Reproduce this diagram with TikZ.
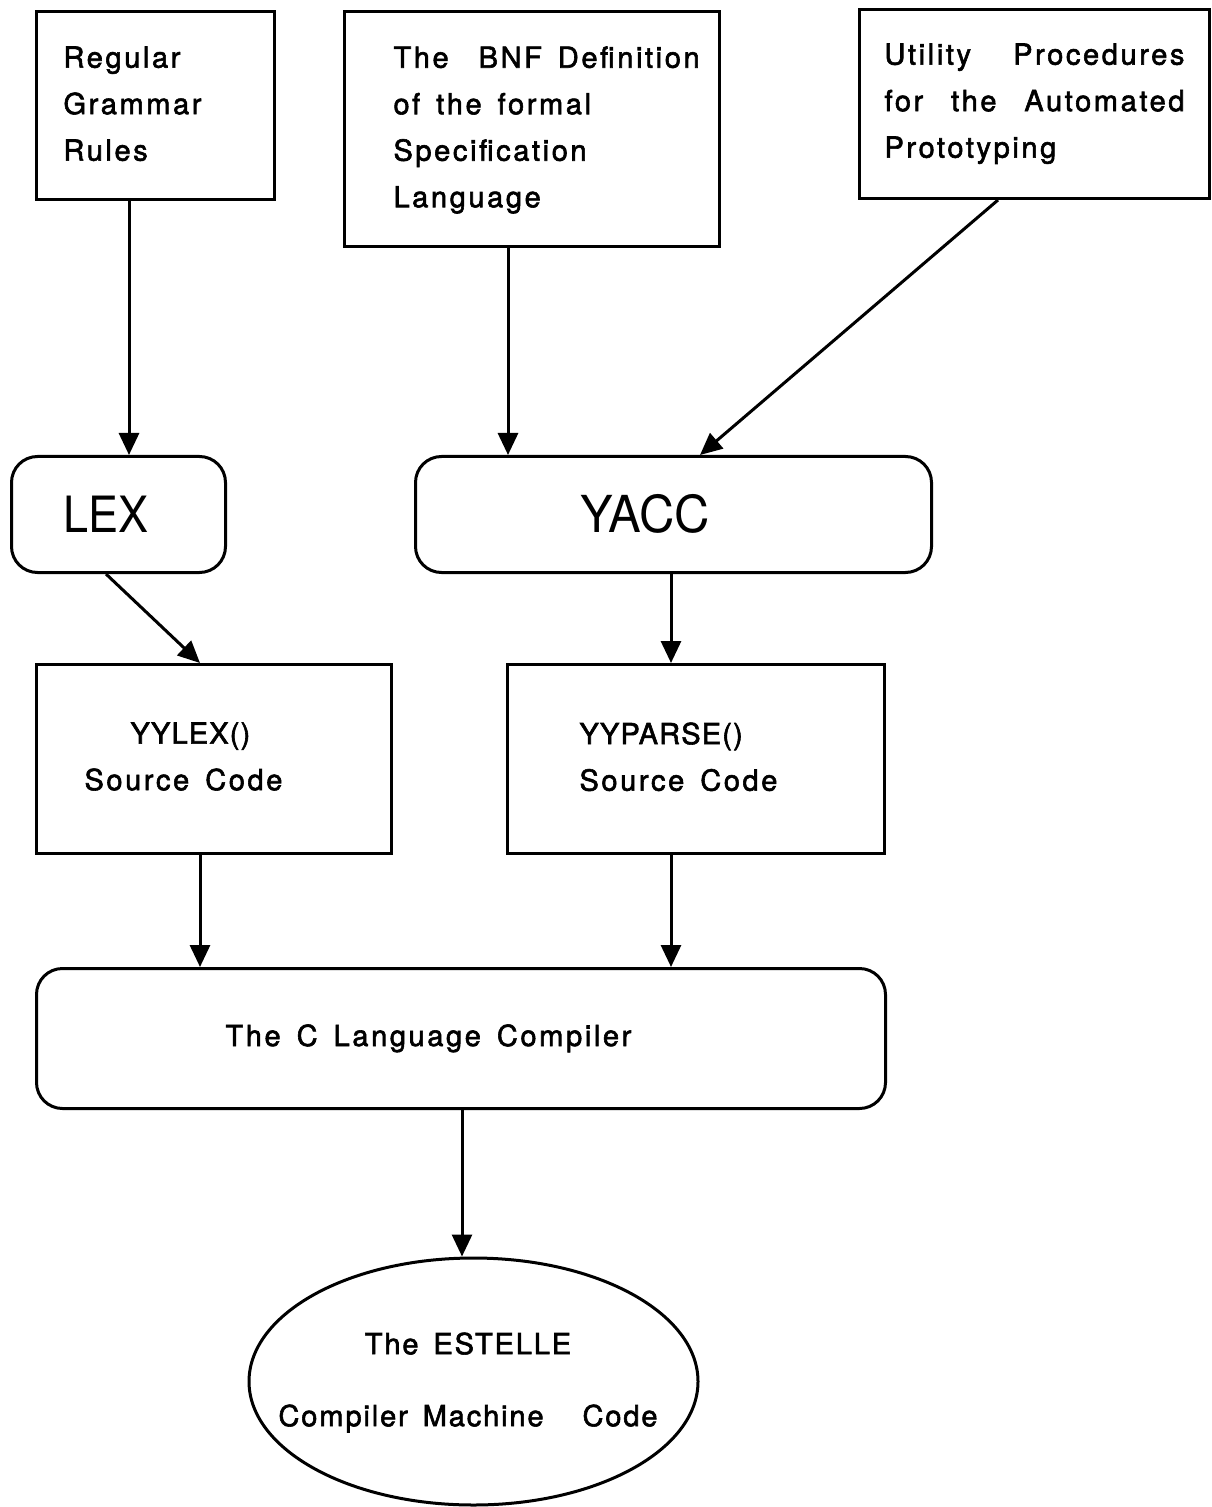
\documentclass[tikz,border=0pt]{standalone}
\usepackage{fontspec}
\setmainfont{TeX Gyre Heros}
\newfontfamily\spacedsans{TeX Gyre Heros}[LetterSpace=9, WordSpace=1.5, FakeBold=2]
\newfontfamily\capsans{TeX Gyre Heros}[LetterSpace=4, WordSpace=1.5, FakeBold=2]
\newfontfamily\ovalsans{TeX Gyre Heros}[LetterSpace=6.5, WordSpace=1.5, FakeBold=2]
\newfontfamily\lexsans{TeX Gyre Heros}[FakeStretch=0.9]
\newfontfamily\yaccsans{TeX Gyre Heros}[FakeStretch=0.96]
\usetikzlibrary{arrows.meta,shapes.geometric}

\begin{document}
\begin{tikzpicture}[x=0.5pt,y=-0.5pt,
  line width=1.5pt,
  plainbox/.style={draw, rectangle, inner sep=0pt, anchor=north west},
  roundbox/.style={draw, rectangle, rounded corners=13pt, inner sep=0pt, anchor=north west},
  boxtext/.style={inner sep=0pt, anchor=north west, align=left,
    font=\spacedsans\fontsize{14.5}{23.25}\selectfont},
  bigtext/.style={inner sep=0pt},
  flow/.style={-{Triangle[length=11pt,width=10pt]}, line width=1.5pt},
]
\useasboundingbox (0,0) rectangle (1211,1507);

% input boxes
\node[plainbox, minimum width=119pt, minimum height=94pt] (grammar) at (35,10) {};
\node[plainbox, minimum width=187.5pt, minimum height=117.5pt] (bnf) at (343,10) {};
\node[plainbox, minimum width=175pt, minimum height=94.5pt] (util) at (858,8) {};

\node[boxtext] (grammartext) at (62,45) {Regular\\Grammar\\Rules};
\node[boxtext] (bnftext) at (392,45) {The\hspace{7pt} BNF Definition\\of the formal\\Specification\\Language};
\node[boxtext] (utiltext) at (883,42)
  {\makebox[150pt][s]{Utility Procedures}\\\makebox[150pt][s]{for the Automated}\\Prototyping};

% generators
\node[roundbox, minimum width=107pt, minimum height=58pt] (lex) at (10,455) {};
\node[roundbox, minimum width=258pt, minimum height=58pt] (yacc) at (414,455) {};
\node[bigtext, anchor=base west, font=\lexsans\fontsize{25}{30}\selectfont] (lextext) at (62,532) {LEX};
\node[bigtext, anchor=base, font=\yaccsans\fontsize{25.5}{30}\selectfont] (yacctext) at (645,532) {YACC};

% generated sources
\node[plainbox, minimum width=177.5pt, minimum height=94.5pt] (yylex) at (35,663) {};
\node[plainbox, minimum width=188.5pt, minimum height=94.5pt] (yyparse) at (506,663) {};
\node[boxtext] (yylextext) at (83,721) {\hspace*{23pt}{\capsans YYLEX()}\\Source Code};
\node[boxtext] (yyparsetext) at (578,721) {{\capsans YYPARSE()}\\Source Code};

% compiler
\node[roundbox, minimum width=424.5pt, minimum height=70pt] (ccomp) at (35,967) {};
\node[boxtext, anchor=base west] (ccomptext) at (224,1046) {The C Language Compiler};

% result
\node[draw, ellipse, minimum width=224.5pt, minimum height=123.5pt, inner sep=0pt] (estelle) at (473.5,1381.5) {};
\node[inner sep=0pt, anchor=north, align=center, font=\ovalsans\fontsize{14.5}{36}\selectfont]
  (estelletext) at (468,1331) {The ESTELLE\\Compiler Machine\hspace{12pt} Code};

% connectors
\draw[flow] (grammar.south -| 129,0) -- (lex.north -| 129,0);
\draw[flow] (bnf.south -| 508,0) -- (yacc.north -| 508,0);
\draw[flow] (util.south -| 998,0) -- (yacc.north -| 700,0);
\draw[flow] (lex.south -| 106,0) -- (yylex.north -| 200,0);
\draw[flow] (yacc.south -| 671,0) -- (yyparse.north -| 671,0);
\draw[flow] (yylex.south -| 200,0) -- (ccomp.north -| 200,0);
\draw[flow] (yyparse.south -| 671,0) -- (ccomp.north -| 671,0);
\draw[flow] (ccomp.south -| 462,0) -- (estelle.north -| 462,0);
\end{tikzpicture}
\end{document}
